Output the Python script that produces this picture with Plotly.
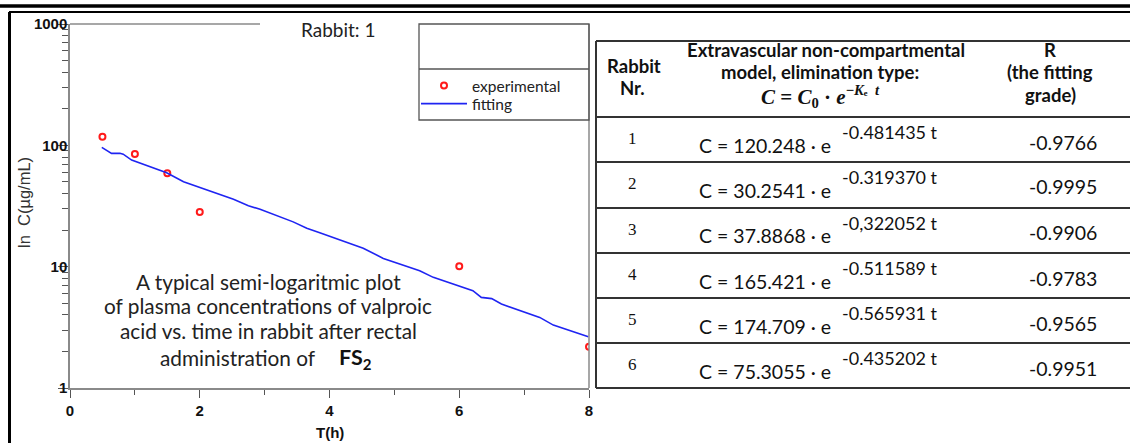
import plotly.graph_objects as go

W, H = 1130, 443

# ---------------- data ----------------
t_exp = [0.5, 1.0, 1.5, 2.0, 6.0, 8.0]
c_exp = [117.8, 84.8, 58.8, 28.2, 10.1, 2.19]

t_fit = [0.49, 0.64, 0.77, 0.82, 0.95, 1.2, 1.49, 1.75, 2.05, 2.52, 2.75, 2.93, 3.44,
         3.65, 3.85, 4.52, 4.83, 5.39, 5.60, 6.21, 6.34, 6.50, 6.65, 7.24, 7.45, 7.99]
c_fit = [96.2, 85.9, 85.9, 84.5, 75.6, 67.5, 59.5, 50.1, 44.2, 35.9, 31.8, 29.7, 23.4,
         20.7, 19.0, 14.2, 11.7, 9.25, 8.16, 6.34, 5.58, 5.45, 4.92, 3.82, 3.30, 2.64]

x_ticks = [0, 2, 4, 6, 8]
y_tickvals = [1, 10, 100, 1000]
y_ticktext = ["1", "10", "100", "1000"]

rabbit_nr = ["1", "2", "3", "4", "5", "6"]
c0_vals = ["120.248", "30.2541", "37.8868", "165.421", "174.709", "75.3055"]
ke_vals = ["-0.481435", "-0.319370", "-0,322052", "-0.511589", "-0.565931", "-0.435202"]
r_vals = ["-0.9766", "-0.9995", "-0.9906", "-0.9783", "-0.9565", "-0.9951"]

header_col1 = ["Rabbit", "Nr."]
header_col2 = ["Extravascular non-compartmental", "model, elimination type:"]
header_col3 = ["R", "(the fitting", "grade)"]

# ---------------- helpers (pixel -> paper) ----------------
def px(x):
    return x / W

def py(y):
    return 1 - y / H

# plot area in pixels
PL, PR, PT, PB = 70, 589, 24, 388

fig = go.Figure()
fig.add_trace(go.Scatter(
    x=t_exp, y=c_exp, mode="markers", name="experimental", legend="legend",
    marker=dict(symbol="circle-open", size=6, color="#ff1a1a", line=dict(width=2, color="#ff1a1a")),
))
fig.add_trace(go.Scatter(
    x=t_fit, y=c_fit, mode="lines", name="fitting", legend="legend2",
    line=dict(color="#1f24f2", width=1.6),
))

LEG_FONT = dict(family="Lato", size=15.5, color="#222")
fig.update_layout(
    width=W, height=H,
    margin=dict(l=0, r=0, t=0, b=0),
    paper_bgcolor="white", plot_bgcolor="white",
    showlegend=True,
    legend=dict(x=px(416), y=py(86), xanchor="left", yanchor="middle",
                bgcolor="rgba(0,0,0,0)", borderwidth=0, font=LEG_FONT, itemwidth=46),
    legend2=dict(x=px(416), y=py(104), xanchor="left", yanchor="middle",
                 bgcolor="rgba(0,0,0,0)", borderwidth=0, font=LEG_FONT, itemwidth=46),
    xaxis=dict(
        domain=[px(PL), px(PR)], range=[0, 8], showgrid=False, zeroline=False,
        showline=True, linecolor="#8a8a8a", linewidth=1.5,
        tickvals=x_ticks, ticks="outside", ticklen=8, tickwidth=1.2, tickcolor="#555",
        minor=dict(dtick=1, ticks="outside", ticklen=5, tickwidth=1.2, tickcolor="#555", showgrid=False),
        tickfont=dict(family="Liberation Sans", size=15, color="#111", weight="bold"),
        automargin=False,
    ),
    yaxis=dict(
        domain=[py(PB), py(PT)], type="log", range=[0, 3], showgrid=False, zeroline=False,
        showline=True, linecolor="#8a8a8a", linewidth=1.5,
        tickvals=y_tickvals, ticktext=y_ticktext, ticks="outside", ticklen=10, tickwidth=1.2,
        tickcolor="#555", ticklabelstandoff=-12,
        minor=dict(tickvals=[v * m for v in [1, 10, 100] for m in range(2, 10)],
                   ticks="outside", ticklen=6, tickwidth=1.2, tickcolor="#555", showgrid=False),
        tickfont=dict(family="Liberation Sans", size=15, color="#111", weight="bold"),
        automargin=False,
    ),
)

shapes = []
def hline(x0, x1, y, color, width):
    shapes.append(dict(type="line", xref="paper", yref="paper", x0=px(x0), x1=px(x1),
                       y0=py(y), y1=py(y), line=dict(color=color, width=width)))

def vline(x, y0, y1, color, width):
    shapes.append(dict(type="line", xref="paper", yref="paper", x0=px(x), x1=px(x),
                       y0=py(y0), y1=py(y1), line=dict(color=color, width=width)))

# outer page frame
hline(0, W, 6, "#000", 3.5)
hline(9, W, 12, "#000", 2)
vline(9.5, 12, H, "#000", 3)

# plot frame pieces (top and right)
hline(PL, 260, PT, "#8a8a8a", 1.5)
vline(PR, PT, PB, "#8a8a8a", 1.5)
# legend box
shapes.append(dict(type="rect", xref="paper", yref="paper", x0=px(419), x1=px(PR),
                   y0=py(120), y1=py(PT), line=dict(color="#555", width=1.3)))
hline(419, PR, 69, "#555", 1.3)

# table
T_LEFT, T_TOP = 596, 41
row_lines = [117, 162, 208, 253, 298, 343, 388]
vline(T_LEFT, T_TOP, 388, "#333", 2)
hline(T_LEFT, W, T_TOP, "#333", 2)
for yl in row_lines:
    hline(T_LEFT, W, yl, "#333", 2)

annotations = []
def text(x, y, s, size, family="Lato", color="#222", xanchor="center", weight="normal", style="normal"):
    annotations.append(dict(xref="paper", yref="paper", x=px(x), y=py(y), text=s,
                            showarrow=False, xanchor=xanchor, yanchor="middle",
                            font=dict(family=family, size=size, color=color, weight=weight, style=style)))

# chart title & axis titles
text(338, 30, "Rabbit: 1", 19)
annotations.append(dict(xref="paper", yref="paper", x=px(24), y=py(203), text="ln  C(µg/mL)",
                        showarrow=False, textangle=-90, xanchor="center", yanchor="middle",
                        font=dict(family="Liberation Sans", size=16.5, color="#333")))
text(330, 432, "T(h)", 15, family="Liberation Sans", color="#111", weight="bold")

# descriptive text inside plot
desc = ["A typical semi-logaritmic plot",
        "of plasma concentrations of valproic",
        "acid vs. time in rabbit after rectal"]
for i, line in enumerate(desc):
    text(268, 281 + i * 24.5, line, 20.8)
text(318, 357, "administration of", 20.8, xanchor="right")
text(337, 358, "<b>FS<sub>2</sub></b>", 21.5, color="#111", xanchor="left")

# table header
HF = 18.5
text(634, 66, "<b>" + header_col1[0] + "</b>", HF, color="#111")
text(632, 88, "<b>" + header_col1[1] + "</b>", HF, color="#111")
text(826, 50, "<b>" + header_col2[0] + "</b>", HF, color="#111")
text(820, 72, "<b>" + header_col2[1] + "</b>", HF, color="#111")
text(820, 97, "<b><i>C</i> = <i>C</i><sub>0</sub> · <i>e</i><sup>−<i>K</i>ₑ  <i>t</i></sup></b>", 21,
     family="Liberation Serif", color="#111")
text(1050, 50, "<b>" + header_col3[0] + "</b>", HF, color="#111")
text(1050, 72, "<b>" + header_col3[1] + "</b>", HF, color="#111")
text(1050, 95, "<b>" + header_col3[2] + "</b>", HF, color="#111")

# table rows
for i in range(6):
    top = row_lines[i]
    text(632, top + 21, rabbit_nr[i], 17, family="Liberation Serif", color="#111")
    text(697, top + 28, "C = " + c0_vals[i] + " · e", 19.5, color="#111", xanchor="left")
    text(840, top + 15, ke_vals[i] + " t", 18, color="#111", xanchor="left")
    text(1063, top + 25, r_vals[i], 19.5, color="#111")

fig.update_layout(shapes=shapes, annotations=annotations)
fig.write_html("out.html", config={"displayModeBar": False},
               post_script="document.body.style.margin='0px';document.body.style.overflow='hidden';")
